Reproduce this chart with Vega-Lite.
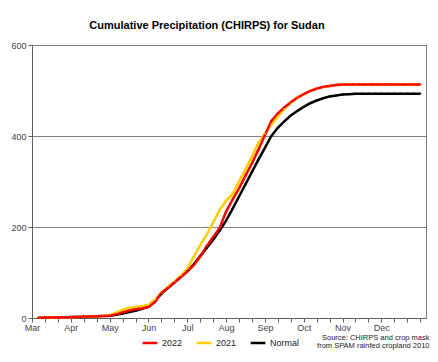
{
  "$schema": "https://vega.github.io/schema/vega-lite/v6.json",
  "width": 394,
  "height": 273,
  "autosize": {"type": "none"},
  "padding": {"left": 32, "top": 45, "right": 12, "bottom": 44},
  "background": "white",
  "config": {
    "font": "Liberation Sans",
    "view": {"stroke": "#7f7f7f", "strokeWidth": 1},
    "axis": {"labelFont": "Liberation Sans", "titleFont": "Liberation Sans"}
  },
  "title": {
    "text": "Cumulative Precipitation (CHIRPS) for Sudan",
    "fontSize": 11,
    "fontWeight": "bold",
    "font": "Liberation Sans",
    "color": "#000000",
    "anchor": "middle",
    "dx": -22,
    "offset": 10
  },
  "data": {
    "values": [
      {"k":1,"s":"Normal","v":0.3},{"k":2,"s":"Normal","v":0.6},{"k":3,"s":"Normal","v":1},{"k":4,"s":"Normal","v":1.3},{"k":5,"s":"Normal","v":1.7},{"k":6,"s":"Normal","v":2},{"k":7,"s":"Normal","v":2.4},{"k":8,"s":"Normal","v":2.8},{"k":9,"s":"Normal","v":3.3},{"k":10,"s":"Normal","v":3.8},
      {"k":11,"s":"Normal","v":4.4},{"k":12,"s":"Normal","v":5},{"k":13,"s":"Normal","v":7},{"k":14,"s":"Normal","v":10},{"k":15,"s":"Normal","v":13},{"k":16,"s":"Normal","v":16},{"k":17,"s":"Normal","v":20},{"k":18,"s":"Normal","v":25},{"k":19,"s":"Normal","v":38},{"k":20,"s":"Normal","v":53},
      {"k":21,"s":"Normal","v":66},{"k":22,"s":"Normal","v":78},{"k":23,"s":"Normal","v":90},{"k":24,"s":"Normal","v":103},{"k":25,"s":"Normal","v":118},{"k":26,"s":"Normal","v":136},{"k":27,"s":"Normal","v":154},{"k":28,"s":"Normal","v":172},{"k":29,"s":"Normal","v":192},{"k":30,"s":"Normal","v":214},
      {"k":31,"s":"Normal","v":240},{"k":32,"s":"Normal","v":267},{"k":33,"s":"Normal","v":294},{"k":34,"s":"Normal","v":321},{"k":35,"s":"Normal","v":348},{"k":36,"s":"Normal","v":374},{"k":37,"s":"Normal","v":400},{"k":38,"s":"Normal","v":418},{"k":39,"s":"Normal","v":432},{"k":40,"s":"Normal","v":445},
      {"k":41,"s":"Normal","v":455},{"k":42,"s":"Normal","v":464},{"k":43,"s":"Normal","v":472},{"k":44,"s":"Normal","v":478},{"k":45,"s":"Normal","v":483},{"k":46,"s":"Normal","v":487},{"k":47,"s":"Normal","v":489},{"k":48,"s":"Normal","v":491},{"k":49,"s":"Normal","v":492},{"k":50,"s":"Normal","v":493},
      {"k":51,"s":"Normal","v":493},{"k":52,"s":"Normal","v":493},{"k":53,"s":"Normal","v":493},{"k":54,"s":"Normal","v":493},{"k":55,"s":"Normal","v":493},{"k":56,"s":"Normal","v":493},{"k":57,"s":"Normal","v":493},{"k":58,"s":"Normal","v":493},{"k":59,"s":"Normal","v":493},{"k":60,"s":"Normal","v":493},

      {"k":1,"s":"2021","v":0.2},{"k":2,"s":"2021","v":0.5},{"k":3,"s":"2021","v":0.8},{"k":4,"s":"2021","v":1.1},{"k":5,"s":"2021","v":1.4},{"k":6,"s":"2021","v":1.8},{"k":7,"s":"2021","v":2.2},{"k":8,"s":"2021","v":2.6},{"k":9,"s":"2021","v":3.1},{"k":10,"s":"2021","v":3.8},
      {"k":11,"s":"2021","v":4.6},{"k":12,"s":"2021","v":6},{"k":13,"s":"2021","v":12},{"k":14,"s":"2021","v":18},{"k":15,"s":"2021","v":22},{"k":16,"s":"2021","v":24},{"k":17,"s":"2021","v":26},{"k":18,"s":"2021","v":29},{"k":19,"s":"2021","v":40},{"k":20,"s":"2021","v":55},
      {"k":21,"s":"2021","v":68},{"k":22,"s":"2021","v":80},{"k":23,"s":"2021","v":93},{"k":24,"s":"2021","v":108},{"k":25,"s":"2021","v":135},{"k":26,"s":"2021","v":160},{"k":27,"s":"2021","v":183},{"k":28,"s":"2021","v":210},{"k":29,"s":"2021","v":237},{"k":30,"s":"2021","v":258},
      {"k":31,"s":"2021","v":272},{"k":32,"s":"2021","v":300},{"k":33,"s":"2021","v":326},{"k":34,"s":"2021","v":355},{"k":35,"s":"2021","v":385},{"k":36,"s":"2021","v":405},{"k":37,"s":"2021","v":425},{"k":38,"s":"2021","v":443},{"k":39,"s":"2021","v":459},{"k":40,"s":"2021","v":473},
      {"k":41,"s":"2021","v":485},{"k":42,"s":"2021","v":491},{"k":43,"s":"2021","v":499},{"k":44,"s":"2021","v":504},{"k":45,"s":"2021","v":508},{"k":46,"s":"2021","v":510},{"k":47,"s":"2021","v":512},{"k":48,"s":"2021","v":513},{"k":49,"s":"2021","v":513},{"k":50,"s":"2021","v":513},
      {"k":51,"s":"2021","v":513},{"k":52,"s":"2021","v":513},{"k":53,"s":"2021","v":513},{"k":54,"s":"2021","v":513},{"k":55,"s":"2021","v":513},{"k":56,"s":"2021","v":513},{"k":57,"s":"2021","v":513},{"k":58,"s":"2021","v":513},{"k":59,"s":"2021","v":513},{"k":60,"s":"2021","v":513},

      {"k":1,"s":"2022","v":0.3},{"k":2,"s":"2022","v":0.6},{"k":3,"s":"2022","v":0.9},{"k":4,"s":"2022","v":1.2},{"k":5,"s":"2022","v":1.5},{"k":6,"s":"2022","v":1.8},{"k":7,"s":"2022","v":2.2},{"k":8,"s":"2022","v":2.7},{"k":9,"s":"2022","v":3.2},{"k":10,"s":"2022","v":3.7},
      {"k":11,"s":"2022","v":4.3},{"k":12,"s":"2022","v":5},{"k":13,"s":"2022","v":8},{"k":14,"s":"2022","v":12},{"k":15,"s":"2022","v":16},{"k":16,"s":"2022","v":19},{"k":17,"s":"2022","v":21},{"k":18,"s":"2022","v":24},{"k":19,"s":"2022","v":35},{"k":20,"s":"2022","v":55},
      {"k":21,"s":"2022","v":66},{"k":22,"s":"2022","v":78},{"k":23,"s":"2022","v":90},{"k":24,"s":"2022","v":102},{"k":25,"s":"2022","v":116},{"k":26,"s":"2022","v":135},{"k":27,"s":"2022","v":158},{"k":28,"s":"2022","v":178},{"k":29,"s":"2022","v":198},{"k":30,"s":"2022","v":234},
      {"k":31,"s":"2022","v":260},{"k":32,"s":"2022","v":285},{"k":33,"s":"2022","v":313},{"k":34,"s":"2022","v":340},{"k":35,"s":"2022","v":370},{"k":36,"s":"2022","v":402},{"k":37,"s":"2022","v":433},{"k":38,"s":"2022","v":450},{"k":39,"s":"2022","v":463},{"k":40,"s":"2022","v":474},
      {"k":41,"s":"2022","v":484},{"k":42,"s":"2022","v":492},{"k":43,"s":"2022","v":499},{"k":44,"s":"2022","v":504},{"k":45,"s":"2022","v":508},{"k":46,"s":"2022","v":510},{"k":47,"s":"2022","v":512},{"k":48,"s":"2022","v":513},{"k":49,"s":"2022","v":513},{"k":50,"s":"2022","v":513},
      {"k":51,"s":"2022","v":513},{"k":52,"s":"2022","v":513},{"k":53,"s":"2022","v":513},{"k":54,"s":"2022","v":513},{"k":55,"s":"2022","v":513},{"k":56,"s":"2022","v":513},{"k":57,"s":"2022","v":513},{"k":58,"s":"2022","v":513},{"k":59,"s":"2022","v":513},{"k":60,"s":"2022","v":513}
    ]
  },
  "mark": {"type": "line", "strokeWidth": 2.5, "point": {"filled": true, "size": 5}},
  "encoding": {
    "x": {
      "field": "k",
      "type": "quantitative",
      "scale": {"domain": [0, 60.9], "nice": false, "zero": false},
      "axis": {
        "values": [0,2,4,6,8,10,12,14,16,18,20,22,24,26,28,30,32,34,36,38,40,42,44,46,48,50,52,54,56,58,60],
        "labelExpr": "datum.value % 6 == 0 && datum.value < 60 ? ['Mar','Apr','May','Jun','Jul','Aug','Sep','Oct','Nov','Dec'][datum.value / 6] : ''",
        "grid": false,
        "domain": true,
        "domainColor": "#5f5f5f",
        "tickColor": "#5f5f5f",
        "tickSize": 4,
        "labelFontSize": 9,
        "labelColor": "#3f3f3f",
        "labelPadding": 1,
        "labelFlush": false,
        "labelOverlap": false,
        "title": ["Source: CHIRPS and crop mask", "from SPAM rainfed cropland 2010"],
        "titleFontSize": 7.5,
        "titleFontWeight": "normal",
        "titleColor": "#222222",
        "titleAnchor": "end",
        "titleAlign": "right",
        "titleX": 397,
        "titleLineHeight": 8.5,
        "titlePadding": 1
      }
    },
    "y": {
      "field": "v",
      "type": "quantitative",
      "scale": {"domain": [0, 600], "nice": false},
      "axis": {
        "values": [0, 200, 400, 600],
        "grid": true,
        "gridColor": "#7f7f7f",
        "gridOpacity": 1,
        "domainColor": "#5f5f5f",
        "tickColor": "#5f5f5f",
        "tickSize": 4,
        "labelFontSize": 9,
        "labelColor": "#3f3f3f",
        "labelPadding": 2,
        "title": null
      }
    },
    "color": {
      "field": "s",
      "type": "nominal",
      "scale": {"domain": ["2022", "2021", "Normal"], "range": ["#ff0000", "#ffcc00", "#000000"]},
      "legend": {
        "orient": "none",
        "legendX": 109,
        "legendY": 289,
        "direction": "horizontal",
        "title": null,
        "symbolType": "stroke",
        "symbolStrokeWidth": 2.5,
        "symbolSize": 220,
        "labelFontSize": 9,
        "labelColor": "#222222",
        "labelOffset": 3,
        "columnPadding": 8
      }
    },
    "order": {"field": "k", "type": "quantitative"}
  }
}
